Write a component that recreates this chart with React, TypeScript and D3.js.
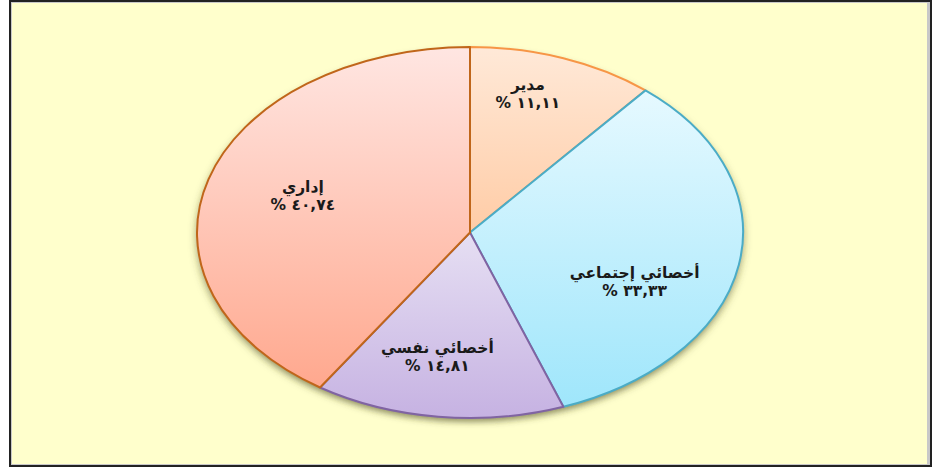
import React, { useEffect, useRef } from 'react';
import * as d3 from 'd3';

// slice data, clockwise from 12 o'clock
const categories = ['مدير', 'أخصائي إجتماعي', 'أخصائي نفسي', 'إداري'];
const values = [11.11, 33.33, 14.81, 40.74];

const W = 937;
const H = 471;
const cx = 470;
const cy = 232.5;
const rx = 273;
const ry = 185.5;

const strokes = ['#F79646', '#4BACC6', '#8064A2', '#C0661A'];
const gradTop = ['#FFE9D8', '#E6F9FF', '#E6DFF3', '#FFE6E2'];
const gradBottom = ['#FFCCA6', '#9FE6FB', '#C6B2E2', '#FFA88E'];
// best-fit label nudges relative to the slice centroid (px)
const labelNudge: [number, number][] = [
  [0, -32],
  [-2, 28],
  [-13, 8],
  [-5, -6],
];

const toArabicDigits = (s: string) =>
  s.replace(/[0-9]/g, d => '٠١٢٣٤٥٦٧٨٩'[+d]);

const App: React.FC = () => {
  const ref = useRef<SVGSVGElement>(null);

  useEffect(() => {
    if (!ref.current) return;
    const svg = d3.select(ref.current);
    svg.selectAll('*').remove();

    const defs = svg.append('defs');
    values.forEach((_, i) => {
      const g = defs
        .append('linearGradient')
        .attr('id', `grad${i}`)
        .attr('x1', 0)
        .attr('y1', 0)
        .attr('x2', 0)
        .attr('y2', 1);
      g.append('stop').attr('offset', '0%').attr('stop-color', gradTop[i]);
      g.append('stop').attr('offset', '100%').attr('stop-color', gradBottom[i]);
    });

    const shadow = defs
      .append('filter')
      .attr('id', 'shadow')
      .attr('x', '-10%')
      .attr('y', '-10%')
      .attr('width', '120%')
      .attr('height', '125%');
    shadow
      .append('feDropShadow')
      .attr('dx', 0)
      .attr('dy', 4)
      .attr('stdDeviation', 3)
      .attr('flood-color', '#4a4a20')
      .attr('flood-opacity', 0.6);

    // frame
    svg
      .append('rect')
      .attr('x', 9)
      .attr('y', 0)
      .attr('width', 923)
      .attr('height', 467)
      .attr('fill', '#222');
    svg
      .append('rect')
      .attr('x', 11)
      .attr('y', 2)
      .attr('width', 919)
      .attr('height', 463)
      .attr('fill', '#C8C8C8');
    svg
      .append('rect')
      .attr('x', 12)
      .attr('y', 3)
      .attr('width', 915)
      .attr('height', 461)
      .attr('fill', '#FFFFCC');

    const pie = d3
      .pie<number>()
      .sort(null)
      .value(d => d);
    const arcs = pie(values);

    const arc = d3
      .arc<d3.PieArcDatum<number>>()
      .innerRadius(0)
      .outerRadius(ry);

    const g = svg
      .append('g')
      .attr('transform', `translate(${cx},${cy}) scale(${rx / ry},1)`);

    // shadow underlay
    g.append('ellipse')
      .attr('cx', 0)
      .attr('cy', 0)
      .attr('rx', ry)
      .attr('ry', ry)
      .attr('fill', '#FFFFCC')
      .attr('filter', 'url(#shadow)');

    g.selectAll('path.slice')
      .data(arcs)
      .join('path')
      .attr('class', 'slice')
      .attr('d', arc)
      .attr('fill', (_, i) => `url(#grad${i})`)
      .attr('stroke', (_, i) => strokes[i])
      .attr('stroke-width', 2)
      .attr('stroke-linejoin', 'round')
      .attr('vector-effect', 'non-scaling-stroke');

    // labels
    const labelArc = d3
      .arc<d3.PieArcDatum<number>>()
      .innerRadius(ry * 0.62)
      .outerRadius(ry * 0.62);

    arcs.forEach((a, i) => {
      const [lx, ly] = labelArc.centroid(a);
      const x = cx + lx * (rx / ry) + labelNudge[i][0];
      const y = cy + ly + labelNudge[i][1];
      const t = svg
        .append('text')
        .attr('x', x)
        .attr('y', y)
        .attr('text-anchor', 'middle')
        .attr('direction', 'rtl')
        .attr('font-family', '"DejaVu Sans", sans-serif')
        .attr('font-weight', 'bold')
        .attr('font-size', 15.5)
        .attr('fill', '#1a1a1a');
      t.append('tspan')
        .attr('x', x)
        .attr('dy', -2)
        .text(categories[i]);
      t.append('tspan')
        .attr('x', x)
        .attr('dy', 18)
        .attr('letter-spacing', 4)
        .text(`${toArabicDigits(values[i].toFixed(2).replace('.', ','))} %`);
    });
  }, []);

  return (
    <svg
      ref={ref}
      width={W}
      height={H}
      style={{ position: 'absolute', left: 0, top: 0 }}
    />
  );
};

export default App;
